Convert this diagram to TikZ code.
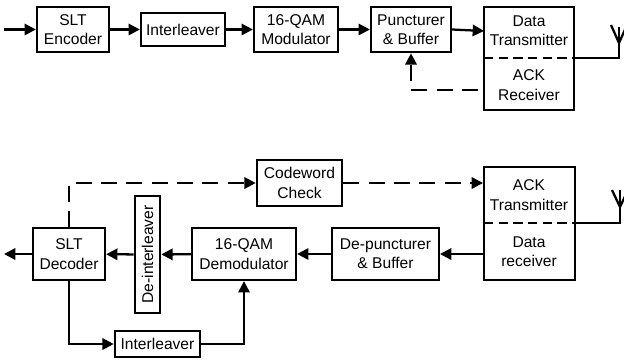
\documentclass[tikz,border=0pt]{standalone}
\usepackage{fontspec}
\setmainfont{Liberation Sans}
\usetikzlibrary{arrows.meta}
\tikzset{
    blockbox/.style={draw, line width=1.7pt, fill=white, align=center, inner sep=0pt, font=\fontsize{11.7}{14.5}\selectfont},
    blocktext/.style={align=center, inner sep=0pt, font=\fontsize{11.7}{14.5}\selectfont},
    flow/.style={line width=1.7pt, -{Triangle[length=8.5pt,width=8.5pt]}},
    flowdash/.style={flow, dash pattern=on 12pt off 7pt},
    wire/.style={line width=1.7pt},
    divider/.style={line width=0.8pt, dash pattern=on 7pt off 4pt}
}
\begin{document}
\begin{tikzpicture}[x=0.75pt, y=-0.75pt]
    \useasboundingbox (0,0) rectangle (624,360);

    % Transmitter boxes
    \node[blockbox, minimum width=54pt, minimum height=34pt] (encoder) at (73,29.5) {SLT\\Encoder};
    \node[blockbox, minimum width=63pt, minimum height=25pt] (interleaver) at (183,29.5) {Interleaver};
    \node[blockbox, minimum width=63pt, minimum height=34pt] (modulator) at (296,29.5) {16-QAM\\Modulator};
    \node[blockbox, minimum width=60pt, minimum height=34pt] (puncturer) at (411,29.5) {Puncturer\\\& Buffer};
    \node[blockbox, minimum width=68pt, minimum height=77pt] (txunit) at (529,58.5) {};
    \node[blocktext] (datatx) at (529,31) {Data\\Transmitter};
    \node[blocktext] (ackrx) at (529,85) {ACK\\Receiver};
    \coordinate (txsplitw) at (484,58);
    \coordinate (txsplite) at (574,58);
    \draw[divider] (txsplitw) -- (txsplite);

    % Transmitter arrows
    \coordinate (source) at (4,29.5);
    \coordinate (ackturn) at (411,90);
    \coordinate (ackout) at (484,90);
    \draw[flow] (source) -- (encoder);
    \draw[flow] (encoder) -- (interleaver);
    \draw[flow] (interleaver) -- (modulator);
    \draw[flow] (modulator) -- (puncturer);
    \draw[flow] (puncturer.east) -- (484,31);
    \draw[flowdash, dash phase=14.5pt] (ackout) -- (ackturn) -- (puncturer.south);

    % Transmit antenna
    \coordinate (txfoot) at (619,58);
    \coordinate (txtop) at (619,27);
    \coordinate (txleft) at (611,25);
    \coordinate (txright) at (627,25);
    \coordinate (txjoin) at (619,43);
    \draw[wire] (txsplite) -- (txfoot) -- (txtop);
    \draw[wire] (txleft) -- (txjoin) -- (txright);

    % Receiver boxes
    \node[blockbox, minimum width=64pt, minimum height=34pt] (check) at (299.5,183) {Codeword\\Check};
    \node[blockbox, minimum width=68pt, minimum height=85pt] (rxunit) at (529.5,223.5) {};
    \node[blocktext] (acktx) at (529,195) {ACK\\Transmitter};
    \node[blocktext] (datarx) at (529,252) {Data\\receiver};
    \coordinate (rxsplitw) at (484,223);
    \coordinate (rxsplite) at (575,223);
    \draw[divider] (rxsplitw) -- (rxsplite);
    \node[blockbox, minimum width=80pt, minimum height=39pt] (depuncturer) at (385.5,254) {De-puncturer\\\& Buffer};
    \node[blockbox, minimum width=78pt, minimum height=39pt] (demodulator) at (244,254) {16-QAM\\Demodulator};
    \node[blockbox, minimum width=88pt, minimum height=19pt, rotate=90] (deinterleaver) at (147.5,254.5) {De-interleaver};
    \node[blockbox, minimum width=54pt, minimum height=39pt] (decoder) at (69,254) {SLT\\Decoder};
    \node[blockbox, minimum width=64pt, minimum height=20pt] (lowinterleaver) at (157.5,344) {Interleaver};

    % Receiver arrows
    \coordinate (sink) at (4,254);
    \coordinate (checkturn) at (69,183);
    \coordinate (lowturn) at (69,344);
    \coordinate (demodturn) at (244,344);
    \draw[flow] (rxunit.west |- depuncturer) -- (depuncturer);
    \draw[flow] (depuncturer) -- (demodulator);
    \draw[flow] (demodulator) -- (deinterleaver);
    \draw[flow] (deinterleaver) -- (decoder);
    \draw[flow] (decoder) -- (sink);
    \draw[flowdash] (decoder.north) -- (checkturn) -- (check);
    \draw[flowdash] (check) -- (rxunit.west |- check);
    \draw[flow] (decoder.south) -- (lowturn) -- (lowinterleaver);
    \draw[flow] (lowinterleaver) -- (demodturn) -- (demodulator.south);

    % Receive antenna
    \coordinate (rxfoot) at (620,223);
    \coordinate (rxtop) at (620,190);
    \coordinate (rxleft) at (612,190);
    \coordinate (rxright) at (628,190);
    \coordinate (rxjoin) at (620,207);
    \draw[wire] (rxsplite) -- (rxfoot) -- (rxtop);
    \draw[wire] (rxleft) -- (rxjoin) -- (rxright);
\end{tikzpicture}
\end{document}
